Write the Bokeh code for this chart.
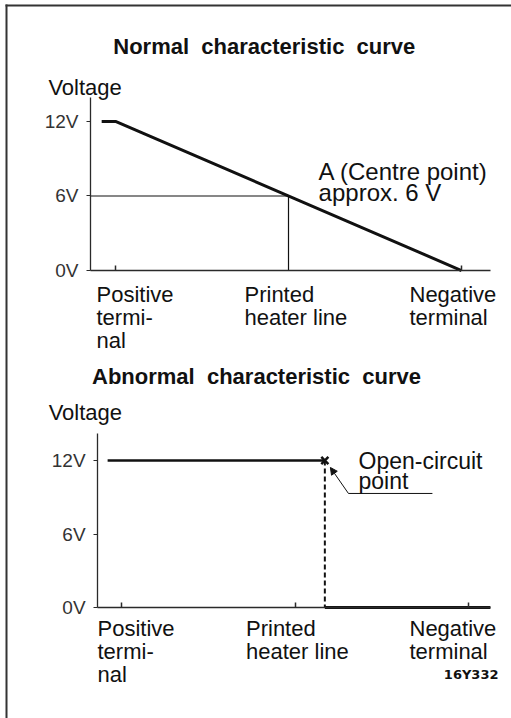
from bokeh.plotting import figure
from bokeh.models import (Range1d, FixedTicker, Label, LabelSet, ColumnDataSource,
                          Arrow, NormalHead, BoxAnnotation, LinearAxis)
from bokeh.core.properties import value
from bokeh.embed import file_html
from bokeh.resources import INLINE

FONT = "Liberation Sans"
INK = "#111111"
AXIS = "#2a2a2a"
RULE = "#333333"

# Position along the rear-window heater: 0 = positive terminal,
# 0.5 = centre of the printed heater line, 1 = negative terminal
category_pos = [0.0, 0.5, 1.0]
category_labels = ["Positive\ntermi-\nnal", "Printed\nheater line", "Negative\nterminal"]
volt_ticks = [0, 6, 12]
volt_labels = {0: "0V", 6: "6V", 12: "12V"}

# Normal curve: supply voltage falls evenly along the heater line
normal_x = [-0.04, 0.0, 1.0]
normal_v = [12, 12, 0]
centre_x = 0.5
centre_v = 6

# Abnormal curve: full voltage up to the break, nothing after it
open_x = 0.586
open_v = 12
abn_high_x = [-0.04, 0.586]
abn_high_v = [12, 12]
abn_low_x = [0.586, 1.063]
abn_low_v = [0, 0]

# leader for the open-circuit callout
leader_x = [0.654, 0.896]
leader_v = [9.31, 9.31]

LINE_STEP = 23  # px between wrapped lines of a category label
TITLE_GAP = "\u00a0 "  # slightly wider word spacing in the headings

# One canvas holds both diagrams; the upper one uses the default ranges,
# the lower one its own pair of extra ranges.
p = figure(frame_width=511, frame_height=718,
           x_range=Range1d(-0.3324, 1.1445), y_range=Range1d(-36.07, 21.74),
           min_border=0, output_backend="svg", toolbar_location=None,
           x_axis_type=None, y_axis_type=None)
p.extra_x_ranges = {"x2": Range1d(-0.3487, 1.1239)}
p.extra_y_ranges = {"y2": Range1d(-9.06, 49.55)}
p.grid.visible = False
p.outline_line_color = None
p.background_fill_color = "white"
p.border_fill_color = "white"


def add_axes(xr, yr, axis_x, axis_top, axis_right, ticks):
    xa = LinearAxis(x_range_name=xr, y_range_name=yr, fixed_location=0,
                    bounds=(axis_x, axis_right), ticker=FixedTicker(ticks=ticks),
                    major_tick_in=5, major_tick_out=0, minor_tick_line_color=None,
                    major_label_text_font_size="0px",
                    axis_line_color=AXIS, axis_line_width=1.3,
                    major_tick_line_color=AXIS, major_tick_line_width=1.5)
    p.add_layout(xa, "below")
    ya = LinearAxis(x_range_name=xr, y_range_name=yr, fixed_location=axis_x,
                    bounds=(0, axis_top), ticker=FixedTicker(ticks=volt_ticks),
                    major_label_overrides=volt_labels,
                    major_tick_in=0, major_tick_out=4, minor_tick_line_color=None,
                    major_label_standoff=8, major_label_text_font=FONT,
                    major_label_text_font_size="19px", major_label_text_color="#333333",
                    axis_line_color=AXIS, axis_line_width=1.3, major_tick_line_color=AXIS)
    p.add_layout(ya, "left")


def text_label(xr, yr, x, y, text, size="22px", bold=False, align="left", font=FONT):
    p.add_layout(Label(x=x, y=y, text=text, x_range_name=xr, y_range_name=yr,
                       text_font=font, text_font_size=size,
                       text_font_style="bold" if bold else "normal",
                       text_color=INK, text_align=align, text_baseline="alphabetic"))


def category_set(xr, yr, dx, dy):
    # one row per wrapped line, stacked under each category position
    xs, ys, texts, dxs, dys = [], [], [], [], []
    for pos, label, off in zip(category_pos, category_labels, dx):
        for i, line in enumerate(label.split("\n")):
            xs.append(pos)
            ys.append(0)
            texts.append(line)
            dxs.append(off)
            dys.append(dy - LINE_STEP * i)
    src = ColumnDataSource(dict(x=xs, y=ys, text=texts, dx=dxs, dy=dys))
    p.add_layout(LabelSet(x="x", y="y", text="text", x_offset="dx", y_offset="dy",
                          source=src, x_range_name=xr, y_range_name=yr,
                          text_font=value(FONT), text_font_size="22px", text_color=INK,
                          text_baseline="top"))


# page rules: left edge full height, top edge full width
p.add_layout(BoxAnnotation(left=5, right=7, top=4, bottom=718,
                           left_units="canvas", right_units="canvas",
                           top_units="canvas", bottom_units="canvas",
                           fill_color=RULE, fill_alpha=1, line_color=None,
                           level="overlay"))
p.add_layout(BoxAnnotation(left=5, right=511, top=4, bottom=6, left_units="canvas",
                           right_units="canvas", top_units="canvas", bottom_units="canvas",
                           fill_color=RULE, fill_alpha=1, line_color=None, level="overlay"))

# ---- normal characteristic curve ----
D1 = ("default", "default")
add_axes(*D1, -0.0723, 13.93, 1.0838, [0.0, 1.0])
p.line([-0.0723, centre_x], [centre_v, centre_v], line_color=INK, line_width=1.2)
p.line([centre_x, centre_x], [centre_v, 0], line_color=INK, line_width=1.2)
p.line(normal_x, normal_v, line_color=INK, line_width=3)
text_label(*D1, 0.43, 18.0, TITLE_GAP.join(["Normal", "characteristic", "curve"]),
           size="22px", bold=True, align="center")
text_label(*D1, -0.194, 14.7, "Voltage")
text_label(*D1, 0.587, 8.0, "A (Centre point)", size="24px")
text_label(*D1, 0.587, 6.3, "approx. 6 V", size="24px")
category_set(*D1, [-19, -44, -52], -11)

# ---- abnormal characteristic curve ----
D2 = ("x2", "y2")
add_axes(*D2, -0.069, 14.2, 1.063, category_pos)
p.line(abn_high_x, abn_high_v, line_color=INK, line_width=2.5,
       x_range_name="x2", y_range_name="y2")
p.line(abn_low_x, abn_low_v, line_color=INK, line_width=3,
       x_range_name="x2", y_range_name="y2")
p.segment(x0=[open_x], y0=[open_v], x1=[open_x], y1=[0], line_color=INK,
          line_width=2, line_dash="5 3", x_range_name="x2", y_range_name="y2")
p.scatter([open_x], [open_v], marker="x", size=10, line_color=INK, line_width=2.5,
          x_range_name="x2", y_range_name="y2")
p.line(leader_x, leader_v, line_color=INK, line_width=1,
       x_range_name="x2", y_range_name="y2")
p.add_layout(Arrow(end=NormalHead(size=7, fill_color=INK, line_color=INK),
                   x_start=leader_x[0], y_start=leader_v[0], x_end=0.602, y_end=11.43,
                   x_range_name="x2", y_range_name="y2", line_color=INK, line_width=1))
text_label(*D2, 0.389, 18.85, TITLE_GAP.join(["Abnormal", "characteristic", "curve"]),
           size="22px", bold=True, align="center")
text_label(*D2, -0.210, 15.9, "Voltage")
text_label(*D2, 0.683, 12.0, "Open-circuit", size="23px")
text_label(*D2, 0.683, 10.3, "point", size="23px")
category_set(*D2, [-24, -49, -59], -8)
text_label(*D2, 1.0864, -5.47, "16Y332", size="13px", bold=True, align="right",
           font="DejaVu Sans")

open("out.html", "w").write(file_html(p, INLINE))
